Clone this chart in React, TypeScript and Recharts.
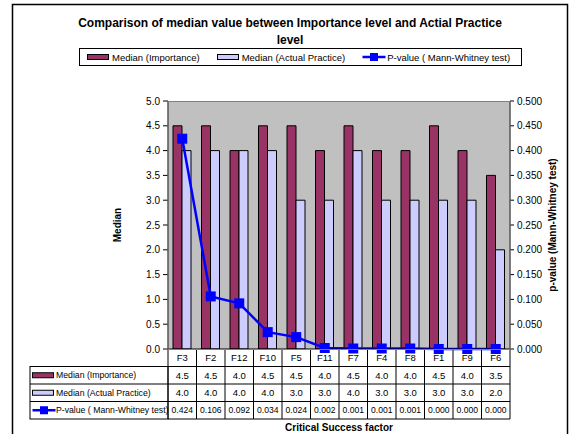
import React from "react";
import { Bar, CartesianGrid, ComposedChart, Legend, Line, XAxis, YAxis } from "recharts";

const factors = ["F3", "F2", "F12", "F10", "F5", "F11", "F7", "F4", "F8", "F1", "F9", "F6"];
const importance = [4.5, 4.5, 4.0, 4.5, 4.5, 4.0, 4.5, 4.0, 4.0, 4.5, 4.0, 3.5];
const practice = [4.0, 4.0, 4.0, 4.0, 3.0, 3.0, 4.0, 3.0, 3.0, 3.0, 3.0, 2.0];
const pValues = [0.424, 0.106, 0.092, 0.034, 0.024, 0.002, 0.001, 0.001, 0.001, 0.0, 0.0, 0.0];
const medianTicks = [0, 0.5, 1, 1.5, 2, 2.5, 3, 3.5, 4, 4.5, 5];
const pTicks = [0, 0.05, 0.1, 0.15, 0.2, 0.25, 0.3, 0.35, 0.4, 0.45, 0.5];

const data = factors.map((name, i) => ({
  name,
  importance: importance[i],
  practice: practice[i],
  p: pValues[i],
}));

const SERIES = [
  { key: "importance", label: "Median (Importance)", kind: "bar", color: "#993366", digits: 1 },
  { key: "practice", label: "Median (Actual Practice)", kind: "bar", color: "#CCCCFF", digits: 1 },
  { key: "p", label: "P-value ( Mann-Whitney test)", kind: "line", color: "#0000FF", digits: 3 },
];

const W = 572;
const H = 434;
const PLOT_TOP = 101;
const PLOT_LEFT = 168;
const PLOT_RIGHT = 510;
const PLOT_BOTTOM = 349;
const CELL_W = (PLOT_RIGHT - PLOT_LEFT) / factors.length;
const ROW_H = 17.5;
const TABLE_LEFT = 30;
const FONT = "'Liberation Sans', Arial, sans-serif";

function Key({ s, x, y }: { s: (typeof SERIES)[number]; x: number; y: number }) {
  if (s.kind === "bar") {
    return <rect x={x} y={y - 2.5} width={21} height={5} fill={s.color} stroke="#000" strokeWidth={1} />;
  }
  return (
    <g>
      <line x1={x} y1={y} x2={x + 23} y2={y} stroke={s.color} strokeWidth={2.5} />
      <rect x={x + 7.5} y={y - 4} width={8} height={8} fill={s.color} />
    </g>
  );
}

function LegendBox() {
  return (
    <div
      style={{
        border: "1px solid #000",
        height: 18,
        boxSizing: "border-box",
        display: "flex",
        alignItems: "center",
        gap: 17,
        paddingLeft: 7,
        fontSize: 9.5,
        fontFamily: FONT,
        color: "#000",
        background: "#fff",
      }}
    >
      {SERIES.map((s) => (
        <span key={s.key} style={{ display: "flex", alignItems: "center", whiteSpace: "nowrap" }}>
          <svg width={24} height={10} style={{ marginRight: 1 }}>
            <Key s={s} x={0.5} y={5} />
          </svg>
          {s.label}
        </span>
      ))}
    </div>
  );
}

function TableTick(props: any) {
  const { x, y, payload, index } = props;
  const left = x - CELL_W / 2;
  const right = x + CELL_W / 2;
  const row: any = data[index];
  const bottom = y + ROW_H * 4;
  return (
    <g fontFamily={FONT}>
      {index === 0 && (
        <g>
          <rect x={TABLE_LEFT} y={y + ROW_H} width={left - TABLE_LEFT} height={ROW_H * 3} fill="#fff" stroke="#000" />
          <line x1={left} y1={y} x2={left} y2={bottom} stroke="#000" />
          {SERIES.map((s, k) => (
            <g key={s.key}>
              <line x1={TABLE_LEFT} y1={y + ROW_H * (k + 1)} x2={left} y2={y + ROW_H * (k + 1)} stroke="#000" />
              <Key s={s} x={TABLE_LEFT + 2.5} y={y + ROW_H * (k + 1.5)} />
              <text x={TABLE_LEFT + 26} y={y + ROW_H * (k + 1.5)} dy="0.35em" fontSize={8.7} fill="#000">
                {s.label}
              </text>
            </g>
          ))}
        </g>
      )}
      <line x1={right} y1={y} x2={right} y2={bottom} stroke="#000" />
      {[1, 2, 3, 4].map((k) => (
        <line key={k} x1={left} y1={y + ROW_H * k} x2={right} y2={y + ROW_H * k} stroke="#000" />
      ))}
      <text x={x} y={y + ROW_H / 2} dy="0.35em" textAnchor="middle" fontSize={9.5} fill="#000">
        {payload.value}
      </text>
      {SERIES.map((s, k) => (
        <text key={s.key} x={x} y={y + ROW_H * (k + 1.5)} dy="0.35em" textAnchor="middle" fontSize={s.digits > 1 ? 8.6 : 9.5} fill="#000">
          {row[s.key].toFixed(s.digits)}
        </text>
      ))}
    </g>
  );
}

function SquareDot(props: any) {
  const { cx, cy, index } = props;
  return <rect key={`dot-${index}`} x={cx - 5} y={cy - 5} width={10} height={10} fill="#0000FF" />;
}

export default function App() {
  const plotMid = (PLOT_TOP + PLOT_BOTTOM) / 2;
  return (
    <div style={{ position: "absolute", left: 0, top: 0, width: W, height: H, fontFamily: FONT, background: "#fff" }}>
      <ComposedChart
        width={W}
        height={H}
        data={data}
        margin={{ top: PLOT_TOP, right: 0, bottom: 0, left: 0 }}
        barGap={0}
        style={{ fontFamily: FONT }}
      >
        <CartesianGrid yAxisId="left" horizontal={false} vertical={false} fill="#C0C0C0" stroke="none" />
        <XAxis
          dataKey="name"
          height={H - PLOT_BOTTOM}
          interval={0}
          tickSize={0}
          tickMargin={0}
          tickLine={false}
          axisLine={{ stroke: "#000" }}
          tick={<TableTick />}
        />
        <YAxis
          yAxisId="left"
          width={PLOT_LEFT}
          domain={[0, 5]}
          ticks={medianTicks}
          interval={0}
          tickFormatter={(v: number) => v.toFixed(1)}
          tick={{ fontSize: 10, fill: "#000" }}
          tickSize={5}
          tickMargin={3}
          axisLine={{ stroke: "#000" }}
          tickLine={{ stroke: "#000" }}
        />
        <YAxis
          yAxisId="right"
          orientation="right"
          width={W - PLOT_RIGHT}
          domain={[0, 0.5]}
          ticks={pTicks}
          interval={0}
          tickFormatter={(v: number) => v.toFixed(3)}
          tick={{ fontSize: 10, fill: "#000" }}
          tickSize={4}
          tickMargin={3}
          axisLine={{ stroke: "#000" }}
          tickLine={{ stroke: "#000" }}
        />
        <Legend
          verticalAlign="middle"
          layout="horizontal"
          wrapperStyle={{ left: 79, top: 48, width: 443 }}
          content={<LegendBox />}
        />
        <Bar yAxisId="left" dataKey="importance" barSize={9} fill="#993366" stroke="#000" strokeWidth={1} isAnimationActive={false} />
        <Bar yAxisId="left" dataKey="practice" barSize={9} fill="#CCCCFF" stroke="#000" strokeWidth={1} isAnimationActive={false} />
        <Line
          yAxisId="right"
          dataKey="p"
          stroke="#0000FF"
          strokeWidth={2.5}
          dot={<SquareDot />}
          activeDot={false}
          isAnimationActive={false}
        />
      </ComposedChart>
      <svg width={W} height={H} style={{ position: "absolute", left: 0, top: 0, pointerEvents: "none" }}>
        <rect x={12.5} y={4.5} width={555} height={H} fill="none" stroke="#000" strokeWidth={1.5} />
        <rect x={PLOT_LEFT} y={PLOT_TOP + 0.5} width={PLOT_RIGHT - PLOT_LEFT} height={PLOT_BOTTOM - PLOT_TOP} fill="none" stroke="#808080" />
        <text x={290} y={23} dy="0.35em" textAnchor="middle" fontSize={12} fontWeight="bold" fill="#000">
          Comparison of median value between Importance level and Actial Practice
        </text>
        <text x={290} y={40} dy="0.35em" textAnchor="middle" fontSize={12} fontWeight="bold" fill="#000">
          level
        </text>
        <text x={117} y={plotMid} dy="0.35em" textAnchor="middle" fontSize={10} fontWeight="bold" fill="#000" transform={`rotate(-90 117 ${plotMid})`}>
          Median
        </text>
        <text x={552} y={plotMid} dy="0.35em" textAnchor="middle" fontSize={10} fontWeight="bold" fill="#000" transform={`rotate(-90 552 ${plotMid})`}>
          p-value (Mann-Whitney test)
        </text>
        <text x={(PLOT_LEFT + PLOT_RIGHT) / 2} y={427} dy="0.35em" textAnchor="middle" fontSize={10} fontWeight="bold" fill="#000">
          Critical Success factor
        </text>
      </svg>
    </div>
  );
}
